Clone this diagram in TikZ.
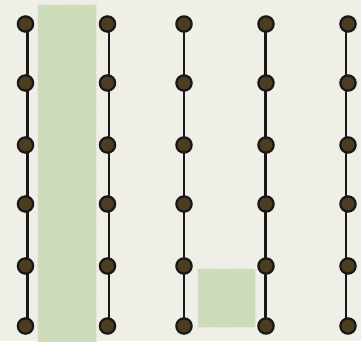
\documentclass[tikz,border=0pt]{standalone}
\definecolor{bg}{RGB}{239,238,231}
\definecolor{pad}{RGB}{205,220,186}
\definecolor{padedge}{RGB}{222,230,205}
\definecolor{knob}{RGB}{76,60,34}
\definecolor{ink}{RGB}{24,24,22}
\pgfdeclarelayer{back}
\pgfsetlayers{back,main}
\tikzset{
  pin/.style={circle, draw=ink, line width=2.2pt, fill=knob, minimum size=15.3pt, inner sep=0pt},
  wire/.style={draw=ink, line width=2.6pt},
  padbox/.style={fill=pad, draw=padedge, line width=0.8pt, dash pattern=on 2pt off 1.5pt}
}
\begin{document}
\begin{tikzpicture}[x=1pt,y=-1pt]
\useasboundingbox (0,0) rectangle (361,341);
\begin{pgfonlayer}{back}
\fill[bg] (0,0) rectangle (361,341);
\clip (0,0) rectangle (361,341);
\path[padbox] (37.5,4.5) rectangle (96,345);
\path[padbox] (197.5,268.5) rectangle (255,327);
\end{pgfonlayer}
\foreach \c/\x/\s in {1/25.5/2,2/107.5/1.5,3/184/0,4/266/-0.7,5/348/-2}{
  \foreach \r/\y in {1/24,2/83,3/145,4/204,5/266,6/326}{
    \node[pin] (n\c-\r) at (\x,\y) {};
  }
  \begin{pgfonlayer}{back}
  \draw[wire] ([xshift=\s pt]n\c-1.center) -- ([xshift=\s pt]n\c-6.center);
  \end{pgfonlayer}
}
\end{tikzpicture}
\end{document}
